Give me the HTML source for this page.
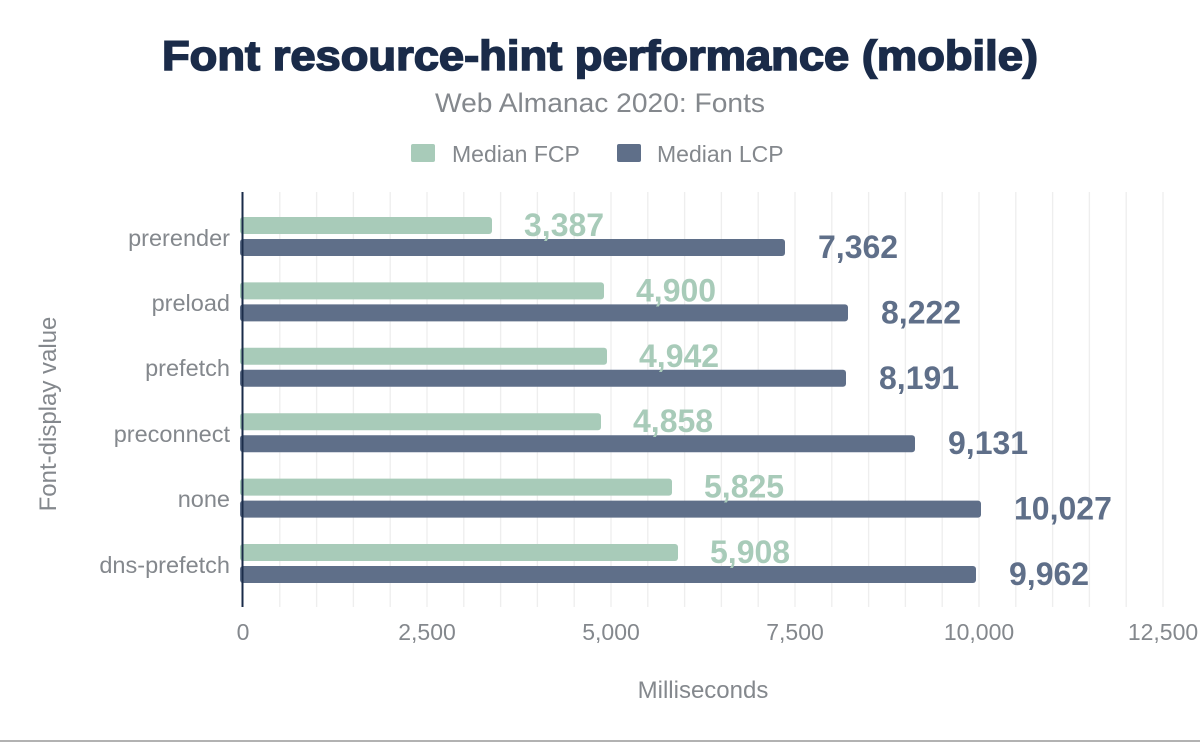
<!DOCTYPE html>
<html><head><meta charset="utf-8"><style>
html,body{margin:0;padding:0;background:#fff;}
svg{display:block;font-family:"Liberation Sans",Arial,sans-serif;}
</style></head><body>
<svg width="1200" height="742" viewBox="0 0 1200 742" xmlns="http://www.w3.org/2000/svg">
<rect width="1200" height="742" fill="#fff"/>
<text x="600" y="70" text-anchor="middle" font-size="42" font-weight="bold" fill="#1a2b49" stroke="#1a2b49" stroke-width="1.6" textLength="876" lengthAdjust="spacingAndGlyphs">Font resource-hint performance (mobile)</text>
<text x="600" y="112" text-anchor="middle" font-size="27" fill="#84888d" textLength="330" lengthAdjust="spacingAndGlyphs">Web Almanac 2020: Fonts</text>
<rect x="411" y="144" width="24" height="18" rx="2" fill="#a8cbb9"/>
<text x="452" y="162" font-size="23" fill="#84888d">Median FCP</text>
<rect x="617" y="144" width="24" height="18" rx="2" fill="#5f6f89"/>
<text x="657" y="162" font-size="23" fill="#84888d">Median LCP</text>
<g stroke="#eeeeee" stroke-width="1.3">
<line x1="279.8" y1="192" x2="279.8" y2="607"/><line x1="316.6" y1="192" x2="316.6" y2="607"/><line x1="353.4" y1="192" x2="353.4" y2="607"/><line x1="390.2" y1="192" x2="390.2" y2="607"/><line x1="427" y1="192" x2="427" y2="607"/><line x1="463.8" y1="192" x2="463.8" y2="607"/><line x1="500.6" y1="192" x2="500.6" y2="607"/><line x1="537.4" y1="192" x2="537.4" y2="607"/><line x1="574.2" y1="192" x2="574.2" y2="607"/><line x1="611" y1="192" x2="611" y2="607"/><line x1="647.8" y1="192" x2="647.8" y2="607"/><line x1="684.6" y1="192" x2="684.6" y2="607"/><line x1="721.4" y1="192" x2="721.4" y2="607"/><line x1="758.2" y1="192" x2="758.2" y2="607"/><line x1="795" y1="192" x2="795" y2="607"/><line x1="831.8" y1="192" x2="831.8" y2="607"/><line x1="868.6" y1="192" x2="868.6" y2="607"/><line x1="905.4" y1="192" x2="905.4" y2="607"/><line x1="942.2" y1="192" x2="942.2" y2="607"/><line x1="979" y1="192" x2="979" y2="607"/><line x1="1015.8" y1="192" x2="1015.8" y2="607"/><line x1="1052.6" y1="192" x2="1052.6" y2="607"/><line x1="1089.4" y1="192" x2="1089.4" y2="607"/><line x1="1126.2" y1="192" x2="1126.2" y2="607"/><line x1="1163" y1="192" x2="1163" y2="607"/>
</g>
<g font-size="23" fill="#84888d" text-anchor="middle">
<text x="243" y="640">0</text><text x="427" y="640">2,500</text><text x="611" y="640">5,000</text><text x="795" y="640">7,500</text><text x="979" y="640">10,000</text><text x="1163" y="640">12,500</text>
</g>
<text x="703" y="698" text-anchor="middle" font-size="24" fill="#84888d">Milliseconds</text>
<text transform="translate(56,414) rotate(-90)" text-anchor="middle" font-size="24" fill="#84888d">Font-display value</text>
<g font-size="23.5" fill="#84888d" text-anchor="end">
<text x="230" y="246">prerender</text><text x="230" y="311">preload</text><text x="230" y="376">prefetch</text><text x="230" y="442">preconnect</text><text x="230" y="507">none</text><text x="230" y="573">dns-prefetch</text>
</g>
<g fill="#a8cbb9">
<rect x="240" y="217" width="252" height="17" rx="3"/>
<rect x="240" y="282.4" width="364" height="17" rx="3"/>
<rect x="240" y="347.8" width="367" height="17" rx="3"/>
<rect x="240" y="413.2" width="361" height="17" rx="3"/>
<rect x="240" y="478.6" width="432" height="17" rx="3"/>
<rect x="240" y="544" width="438" height="17" rx="3"/>
</g>
<g fill="#5f6f89">
<rect x="240" y="239" width="545" height="17" rx="3"/>
<rect x="240" y="304.4" width="608" height="17" rx="3"/>
<rect x="240" y="369.8" width="606" height="17" rx="3"/>
<rect x="240" y="435.2" width="675" height="17" rx="3"/>
<rect x="240" y="500.6" width="741" height="17" rx="3"/>
<rect x="240" y="566" width="736" height="17" rx="3"/>
</g>
<line x1="242.5" y1="192" x2="242.5" y2="607" stroke="#1a2b49" stroke-width="2"/>
<g font-size="32" font-weight="bold" fill="#a8cbb9">
<text x="524" y="236">3,387</text>
<text x="636" y="301.4">4,900</text>
<text x="639" y="366.8">4,942</text>
<text x="633" y="432.2">4,858</text>
<text x="704" y="497.6">5,825</text>
<text x="710" y="563">5,908</text>
</g>
<g font-size="32" font-weight="bold" fill="#5f6f89">
<text x="818" y="258">7,362</text>
<text x="881" y="323.4">8,222</text>
<text x="879" y="388.8">8,191</text>
<text x="948" y="454.2">9,131</text>
<text x="1014" y="519.6">10,027</text>
<text x="1009" y="585">9,962</text>
</g>
<line x1="0" y1="741" x2="1200" y2="741" stroke="#999" stroke-width="1.5"/>
</svg>
</body></html>
